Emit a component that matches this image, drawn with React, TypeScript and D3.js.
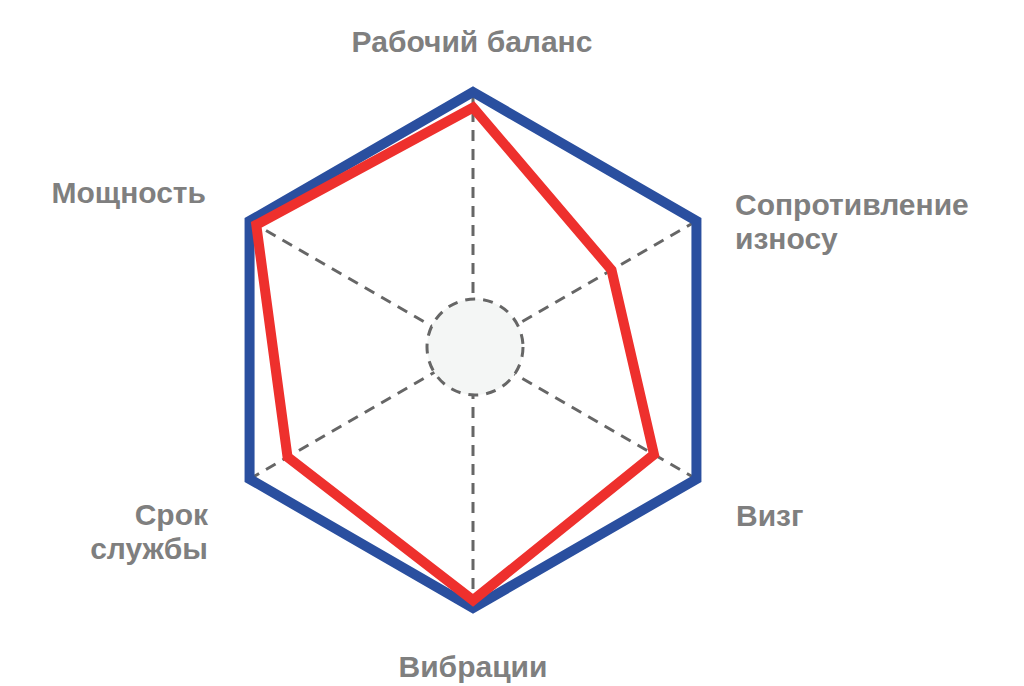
import React from "react";
import * as d3 from "d3";

const categories = ["Рабочий баланс", "Сопротивление износу", "Визг", "Вибрации", "Срок службы", "Мощность"];
const outerValues = [1, 1, 1, 1, 1, 1];
const productValues = [0.94, 0.62, 0.81, 0.97, 0.83, 0.97];

const W = 1024;
const H = 686;
const cx = 473;
const cy = 350;

const rScale = d3.scaleLinear().domain([0, 1]).range([0, 258]);
const aScale = d3.scaleLinear().domain([0, categories.length]).range([0, 2 * Math.PI]);

const pt = (i: number, v: number): [number, number] => {
  const a = aScale(i);
  return [cx + rScale(v) * Math.sin(a), cy - rScale(v) * Math.cos(a)];
};

const lineGen = d3.line<[number, number]>().curve(d3.curveLinearClosed);

type Lab = { lines: string[]; x: number; y: number; anchor: string };
const labels: Lab[] = [
  { lines: ["Рабочий баланс"], x: 472, y: 52, anchor: "middle" },
  { lines: ["Сопротивление", "износу"], x: 735, y: 215, anchor: "start" },
  { lines: ["Визг"], x: 736, y: 526, anchor: "start" },
  { lines: ["Вибрации"], x: 473, y: 677, anchor: "middle" },
  { lines: ["Срок", "службы"], x: 208, y: 525, anchor: "end" },
  { lines: ["Мощность"], x: 206, y: 203, anchor: "end" },
];

export default function App() {
  const outerPts = outerValues.map((v, i) => pt(i, v));
  const prodPts = productValues.map((v, i) => pt(i, v));
  return (
    <svg width={W} height={H} style={{ position: "absolute", left: 0, top: 0, background: "#fff" }}>
      {categories.map((c, i) => {
        const [x, y] = pt(i, 1);
        return (
          <line key={c} x1={cx} y1={cy} x2={x} y2={y} stroke="#666" strokeWidth={3} strokeDasharray="11 8" />
        );
      })}
      <circle cx={cx + 2} cy={cy - 3} r={48} fill="#f4f6f5" stroke="#666" strokeWidth={3} strokeDasharray="10 8" />
      <path d={lineGen(outerPts) || ""} fill="none" stroke="#2a4f9f" strokeWidth={10} strokeLinejoin="miter" />
      <path d={lineGen(prodPts) || ""} fill="none" stroke="#ee302d" strokeWidth={10} strokeLinejoin="miter" />
      {labels.map((l, i) => (
        <text
          key={i}
          x={l.x}
          y={l.y}
          textAnchor={l.anchor as any}
          fontFamily="Liberation Sans, Arial, sans-serif"
          fontWeight="bold"
          fontSize={30}
          fill="#7f7f7f"
        >
          {l.lines.map((t, j) => (
            <tspan key={j} x={l.x} dy={j === 0 ? 0 : 34}>
              {t}
            </tspan>
          ))}
        </text>
      ))}
    </svg>
  );
}
